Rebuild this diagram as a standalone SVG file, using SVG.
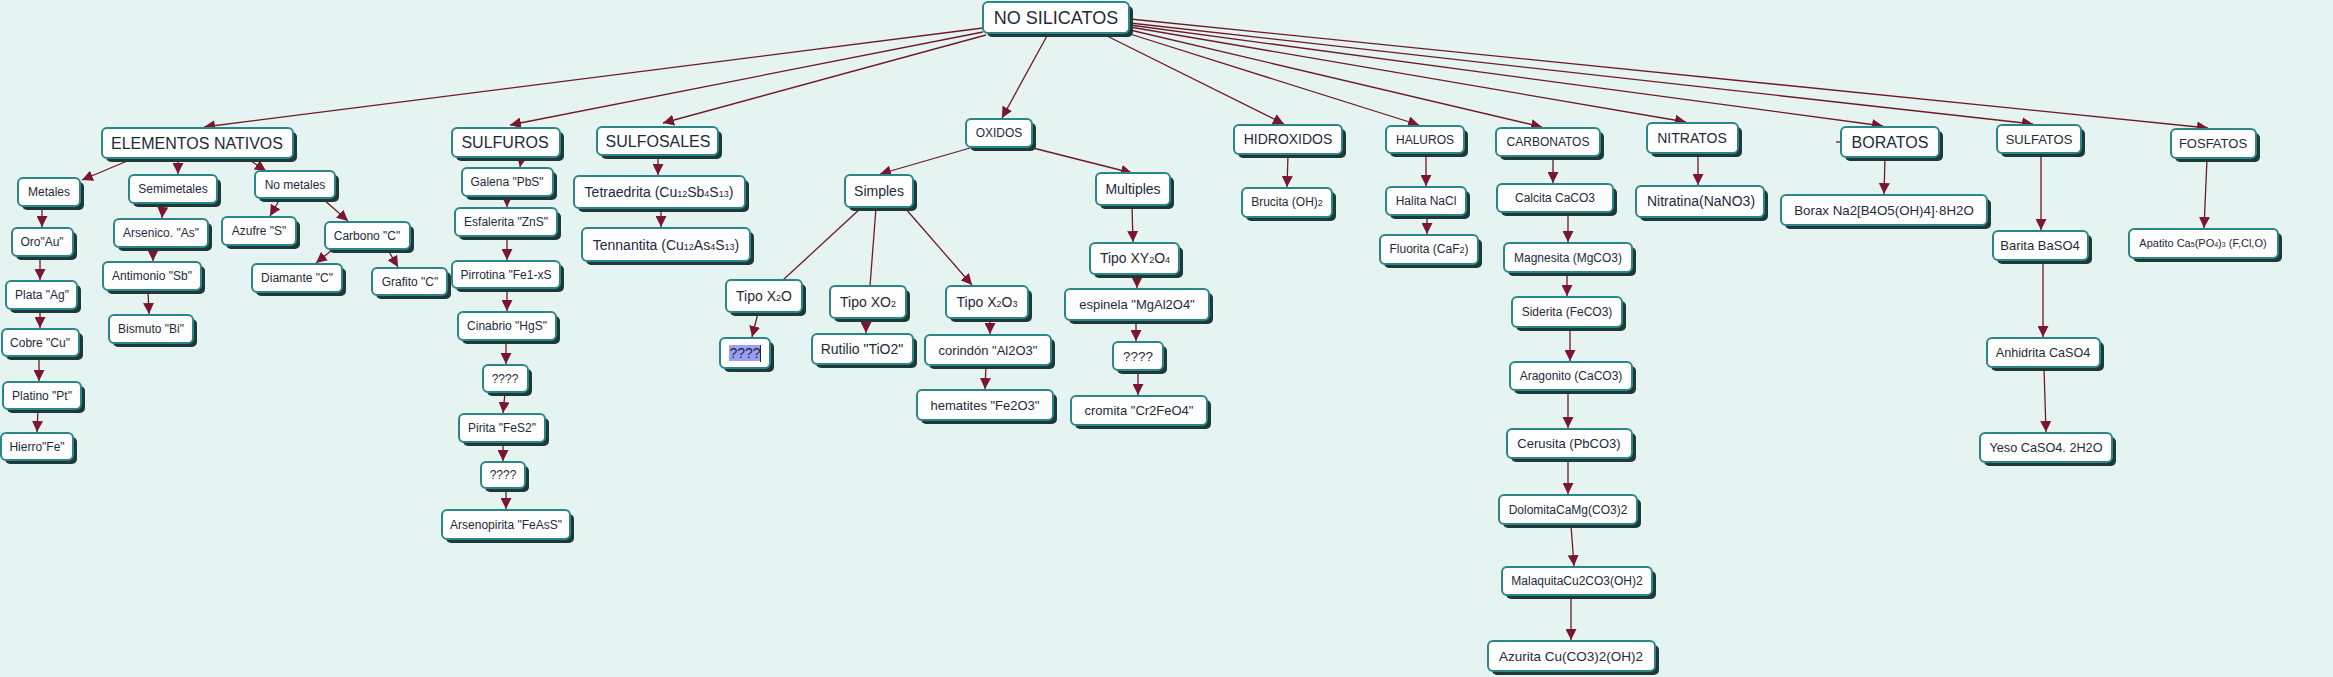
<svg xmlns="http://www.w3.org/2000/svg" width="2333" height="677" viewBox="0 0 2333 677">
<defs>
<marker id="ah" viewBox="0 0 10 10" markerUnits="userSpaceOnUse" markerWidth="11" markerHeight="11" refX="10" refY="5" orient="auto">
<path d="M0,0 L10,5 L0,10 z" fill="#7a1630"/>
</marker>
</defs>
<style>
.sh{fill:#1f3838}
.bx{fill:#ffffff;stroke:#2b8787;stroke-width:2}
text{font-family:"Liberation Sans",Arial,sans-serif;fill:#1c2a3a;text-anchor:middle}
.cn line{stroke:#6e1828;stroke-width:1.3;fill:none}
.cn .a{marker-end:url(#ah)}
</style>
<rect x="0" y="0" width="2333" height="677" fill="#e5f4f1"/>
<g class="cn" id="connectors">
<line class="a" x1="983" y1="28" x2="204" y2="127"/>
<line class="a" x1="983" y1="32" x2="510" y2="125"/>
<line class="a" x1="986" y1="35" x2="663" y2="123"/>
<line class="a" x1="1048" y1="34" x2="1002" y2="118"/>
<line class="a" x1="1103" y1="34" x2="1284" y2="124"/>
<line class="a" x1="1130" y1="34" x2="1419" y2="125"/>
<line class="a" x1="1130" y1="30" x2="1542" y2="127"/>
<line class="a" x1="1130" y1="27" x2="1686" y2="122"/>
<line class="a" x1="1130" y1="25" x2="1883" y2="126"/>
<line class="a" x1="1130" y1="23" x2="2033" y2="124"/>
<line class="a" x1="1130" y1="19" x2="2208" y2="128"/>
<line class="a" x1="132" y1="159" x2="82" y2="180"/>
<line class="a" x1="178" y1="159" x2="178" y2="174"/>
<line class="a" x1="248" y1="159" x2="266" y2="171"/>
<line class="a" x1="42" y1="207" x2="42" y2="227"/>
<line class="a" x1="40" y1="257" x2="40" y2="280"/>
<line class="a" x1="40" y1="310" x2="40" y2="328"/>
<line class="a" x1="39" y1="357" x2="39" y2="381"/>
<line class="a" x1="38" y1="410" x2="37" y2="432"/>
<line class="a" x1="163" y1="204" x2="162" y2="218"/>
<line class="a" x1="153" y1="248" x2="153" y2="261"/>
<line class="a" x1="148" y1="291" x2="149" y2="314"/>
<line class="a" x1="280" y1="199" x2="270" y2="216"/>
<line class="a" x1="323" y1="199" x2="348" y2="221"/>
<line class="a" x1="332" y1="250" x2="316" y2="263"/>
<line class="a" x1="388" y1="250" x2="398" y2="267"/>
<line class="a" x1="522" y1="156" x2="520" y2="167"/>
<line class="a" x1="507" y1="197" x2="507" y2="207"/>
<line class="a" x1="507" y1="237" x2="507" y2="260"/>
<line class="a" x1="507" y1="289" x2="507" y2="311"/>
<line class="a" x1="506" y1="341" x2="506" y2="364"/>
<line class="a" x1="505" y1="393" x2="503" y2="413"/>
<line class="a" x1="503" y1="443" x2="503" y2="461"/>
<line class="a" x1="506" y1="489" x2="506" y2="509"/>
<line class="a" x1="658" y1="156" x2="658" y2="175"/>
<line class="a" x1="661" y1="209" x2="661" y2="227"/>
<line class="a" x1="970" y1="148" x2="880" y2="174"/>
<line class="a" x1="1033" y1="148" x2="1132" y2="173"/>
<line x1="861" y1="208" x2="783" y2="280"/>
<line x1="876" y1="208" x2="870" y2="286"/>
<line class="a" x1="905" y1="208" x2="972" y2="285"/>
<line class="a" x1="758" y1="313" x2="752" y2="337"/>
<line class="a" x1="866" y1="319" x2="866" y2="333"/>
<line class="a" x1="990" y1="319" x2="990" y2="334"/>
<line class="a" x1="986" y1="366" x2="985" y2="389"/>
<line class="a" x1="1132" y1="206" x2="1133" y2="242"/>
<line class="a" x1="1137" y1="275" x2="1137" y2="288"/>
<line class="a" x1="1136" y1="321" x2="1136" y2="341"/>
<line class="a" x1="1138" y1="371" x2="1138" y2="395"/>
<line class="a" x1="1288" y1="155" x2="1287" y2="187"/>
<line class="a" x1="1426" y1="154" x2="1426" y2="186"/>
<line class="a" x1="1427" y1="216" x2="1427" y2="234"/>
<line class="a" x1="1553" y1="157" x2="1553" y2="183"/>
<line class="a" x1="1568" y1="213" x2="1568" y2="242"/>
<line class="a" x1="1567" y1="273" x2="1567" y2="296"/>
<line class="a" x1="1570" y1="328" x2="1570" y2="361"/>
<line class="a" x1="1568" y1="391" x2="1568" y2="428"/>
<line class="a" x1="1568" y1="459" x2="1568" y2="494"/>
<line class="a" x1="1571" y1="525" x2="1574" y2="566"/>
<line class="a" x1="1571" y1="596" x2="1571" y2="640"/>
<line class="a" x1="1698" y1="154" x2="1698" y2="185"/>
<line class="a" x1="1885" y1="158" x2="1884" y2="194"/>
<line class="a" x1="2041" y1="154" x2="2041" y2="230"/>
<line class="a" x1="2043" y1="261" x2="2043" y2="337"/>
<line class="a" x1="2044" y1="368" x2="2046" y2="432"/>
<line class="a" x1="2207" y1="159" x2="2204" y2="228"/>
<line x1="1836" y1="142" x2="1841" y2="142"/>
</g>
<g id="nosilicatos"><rect class="sh" x="987" y="6" width="146" height="31" rx="5"/><rect class="bx" x="983" y="2" width="146" height="31" rx="5"/><text x="1056" y="24" font-size="18">NO SILICATOS</text></g>
<g id="elementos"><rect class="sh" x="106" y="132" width="191" height="30" rx="5"/><rect class="bx" x="102" y="128" width="191" height="30" rx="5"/><text x="197" y="149" font-size="16">ELEMENTOS NATIVOS</text></g>
<g id="metales"><rect class="sh" x="22" y="182" width="62" height="28" rx="5"/><rect class="bx" x="18" y="178" width="62" height="28" rx="5"/><text x="49" y="196" font-size="12">Metales</text></g>
<g id="oro"><rect class="sh" x="16" y="232" width="61" height="28" rx="5"/><rect class="bx" x="12" y="228" width="61" height="28" rx="5"/><text x="42" y="246" font-size="12">Oro"Au"</text></g>
<g id="plata"><rect class="sh" x="10" y="285" width="71" height="28" rx="5"/><rect class="bx" x="6" y="281" width="71" height="28" rx="5"/><text x="42" y="299" font-size="12">Plata "Ag"</text></g>
<g id="cobre"><rect class="sh" x="6" y="333" width="77" height="27" rx="5"/><rect class="bx" x="2" y="329" width="77" height="27" rx="5"/><text x="40" y="347" font-size="12">Cobre "Cu"</text></g>
<g id="platino"><rect class="sh" x="7" y="386" width="78" height="27" rx="5"/><rect class="bx" x="3" y="382" width="78" height="27" rx="5"/><text x="42" y="400" font-size="12">Platino "Pt"</text></g>
<g id="hierro"><rect class="sh" x="5" y="437" width="72" height="27" rx="5"/><rect class="bx" x="1" y="433" width="72" height="27" rx="5"/><text x="37" y="451" font-size="12">Hierro"Fe"</text></g>
<g id="semimetales"><rect class="sh" x="133" y="179" width="88" height="28" rx="5"/><rect class="bx" x="129" y="175" width="88" height="28" rx="5"/><text x="173" y="193" font-size="12">Semimetales</text></g>
<g id="arsenico"><rect class="sh" x="118" y="223" width="94" height="28" rx="5"/><rect class="bx" x="114" y="219" width="94" height="28" rx="5"/><text x="161" y="237" font-size="12">Arsenico. "As"</text></g>
<g id="antimonio"><rect class="sh" x="107" y="266" width="98" height="28" rx="5"/><rect class="bx" x="103" y="262" width="98" height="28" rx="5"/><text x="152" y="280" font-size="12">Antimonio "Sb"</text></g>
<g id="bismuto"><rect class="sh" x="113" y="319" width="84" height="28" rx="5"/><rect class="bx" x="109" y="315" width="84" height="28" rx="5"/><text x="151" y="333" font-size="12">Bismuto "Bi"</text></g>
<g id="nometales"><rect class="sh" x="259" y="175" width="80" height="27" rx="5"/><rect class="bx" x="255" y="171" width="80" height="27" rx="5"/><text x="295" y="189" font-size="12">No metales</text></g>
<g id="azufre"><rect class="sh" x="226" y="221" width="74" height="28" rx="5"/><rect class="bx" x="222" y="217" width="74" height="28" rx="5"/><text x="259" y="235" font-size="12">Azufre "S"</text></g>
<g id="carbono"><rect class="sh" x="329" y="226" width="85" height="27" rx="5"/><rect class="bx" x="325" y="222" width="85" height="27" rx="5"/><text x="367" y="240" font-size="12">Carbono "C"</text></g>
<g id="diamante"><rect class="sh" x="256" y="268" width="90" height="28" rx="5"/><rect class="bx" x="252" y="264" width="90" height="28" rx="5"/><text x="297" y="282" font-size="12">Diamante "C"</text></g>
<g id="grafito"><rect class="sh" x="376" y="272" width="75" height="27" rx="5"/><rect class="bx" x="372" y="268" width="75" height="27" rx="5"/><text x="410" y="286" font-size="12">Grafito "C"</text></g>
<g id="sulfuros"><rect class="sh" x="456" y="132" width="108" height="29" rx="5"/><rect class="bx" x="452" y="128" width="108" height="29" rx="5"/><text x="505" y="148" font-size="16">SULFUROS</text></g>
<g id="galena"><rect class="sh" x="466" y="172" width="91" height="28" rx="5"/><rect class="bx" x="462" y="168" width="91" height="28" rx="5"/><text x="507" y="186" font-size="12">Galena "PbS"</text></g>
<g id="esfalerita"><rect class="sh" x="459" y="212" width="102" height="28" rx="5"/><rect class="bx" x="455" y="208" width="102" height="28" rx="5"/><text x="506" y="226" font-size="12">Esfalerita "ZnS"</text></g>
<g id="pirrotina"><rect class="sh" x="456" y="265" width="108" height="27" rx="5"/><rect class="bx" x="452" y="261" width="108" height="27" rx="5"/><text x="506" y="279" font-size="12">Pirrotina "Fe1-xS</text></g>
<g id="cinabrio"><rect class="sh" x="462" y="316" width="98" height="28" rx="5"/><rect class="bx" x="458" y="312" width="98" height="28" rx="5"/><text x="507" y="330" font-size="12">Cinabrio "HgS"</text></g>
<g id="q1"><rect class="sh" x="487" y="369" width="45" height="27" rx="5"/><rect class="bx" x="483" y="365" width="45" height="27" rx="5"/><text x="505" y="383" font-size="12">????</text></g>
<g id="pirita"><rect class="sh" x="463" y="418" width="86" height="28" rx="5"/><rect class="bx" x="459" y="414" width="86" height="28" rx="5"/><text x="502" y="432" font-size="12">Pirita "FeS2"</text></g>
<g id="q2"><rect class="sh" x="485" y="466" width="44" height="26" rx="5"/><rect class="bx" x="481" y="462" width="44" height="26" rx="5"/><text x="503" y="479" font-size="12">????</text></g>
<g id="arsenopirita"><rect class="sh" x="446" y="514" width="128" height="29" rx="5"/><rect class="bx" x="442" y="510" width="128" height="29" rx="5"/><text x="506" y="529" font-size="12">Arsenopirita "FeAsS"</text></g>
<g id="sulfosales"><rect class="sh" x="601" y="131" width="121" height="28" rx="5"/><rect class="bx" x="597" y="127" width="121" height="28" rx="5"/><text x="658" y="147" font-size="16">SULFOSALES</text></g>
<g id="tetraedrita"><rect class="sh" x="578" y="180" width="171" height="32" rx="5"/><rect class="bx" x="574" y="176" width="171" height="32" rx="5"/><text x="659" y="197" font-size="14">Tetraedrita (Cu<tspan font-size="9">12</tspan>Sb<tspan font-size="9">4</tspan>S<tspan font-size="9">13</tspan>)</text></g>
<g id="tennantita"><rect class="sh" x="586" y="232" width="168" height="33" rx="5"/><rect class="bx" x="582" y="228" width="168" height="33" rx="5"/><text x="666" y="250" font-size="14">Tennantita (Cu<tspan font-size="9">12</tspan>As<tspan font-size="9">4</tspan>S<tspan font-size="9">13</tspan>)</text></g>
<g id="oxidos"><rect class="sh" x="970" y="123" width="66" height="28" rx="5"/><rect class="bx" x="966" y="119" width="66" height="28" rx="5"/><text x="999" y="137" font-size="12">OXIDOS</text></g>
<g id="simples"><rect class="sh" x="849" y="179" width="68" height="32" rx="5"/><rect class="bx" x="845" y="175" width="68" height="32" rx="5"/><text x="879" y="196" font-size="14">Simples</text></g>
<g id="multiples"><rect class="sh" x="1100" y="177" width="74" height="32" rx="5"/><rect class="bx" x="1096" y="173" width="74" height="32" rx="5"/><text x="1133" y="194" font-size="14">Multiples</text></g>
<g id="tipox2o"><rect class="sh" x="730" y="284" width="76" height="32" rx="5"/><rect class="bx" x="726" y="280" width="76" height="32" rx="5"/><text x="764" y="301" font-size="14">Tipo X<tspan font-size="9">2</tspan>O</text></g>
<g id="q3"><rect class="sh" x="724" y="342" width="50" height="30" rx="5"/><rect class="bx" x="720" y="338" width="50" height="30" rx="5"/><rect x="729" y="345" width="31" height="16" fill="#9c9ef5"/><line x1="760.5" y1="345" x2="760.5" y2="362" stroke="#1c2a3a" stroke-width="1"/><text x="745" y="358" font-size="14" fill="#2a3470">????</text></g>
<g id="tipoxo2"><rect class="sh" x="834" y="290" width="76" height="32" rx="5"/><rect class="bx" x="830" y="286" width="76" height="32" rx="5"/><text x="868" y="307" font-size="14">Tipo XO<tspan font-size="9">2</tspan></text></g>
<g id="rutilio"><rect class="sh" x="816" y="338" width="101" height="30" rx="5"/><rect class="bx" x="812" y="334" width="101" height="30" rx="5"/><text x="862" y="354" font-size="14">Rutilio "TiO2"</text></g>
<g id="tipox2o3"><rect class="sh" x="950" y="290" width="82" height="32" rx="5"/><rect class="bx" x="946" y="286" width="82" height="32" rx="5"/><text x="987" y="307" font-size="14">Tipo X<tspan font-size="9">2</tspan>O<tspan font-size="9">3</tspan></text></g>
<g id="corindon"><rect class="sh" x="929" y="339" width="126" height="30" rx="5"/><rect class="bx" x="925" y="335" width="126" height="30" rx="5"/><text x="988" y="355" font-size="13">corindón "Al2O3"</text></g>
<g id="hematites"><rect class="sh" x="921" y="394" width="136" height="30" rx="5"/><rect class="bx" x="917" y="390" width="136" height="30" rx="5"/><text x="985" y="410" font-size="13">hematites "Fe2O3"</text></g>
<g id="tipoxy2o4"><rect class="sh" x="1094" y="247" width="89" height="31" rx="5"/><rect class="bx" x="1090" y="243" width="89" height="31" rx="5"/><text x="1135" y="263" font-size="14">Tipo XY<tspan font-size="9">2</tspan>O<tspan font-size="9">4</tspan></text></g>
<g id="espinela"><rect class="sh" x="1069" y="293" width="144" height="31" rx="5"/><rect class="bx" x="1065" y="289" width="144" height="31" rx="5"/><text x="1137" y="309" font-size="13">espinela "MgAl2O4"</text></g>
<g id="q4"><rect class="sh" x="1117" y="346" width="50" height="28" rx="5"/><rect class="bx" x="1113" y="342" width="50" height="28" rx="5"/><text x="1138" y="361" font-size="13.5">????</text></g>
<g id="cromita"><rect class="sh" x="1075" y="400" width="136" height="29" rx="5"/><rect class="bx" x="1071" y="396" width="136" height="29" rx="5"/><text x="1139" y="415" font-size="13">cromita "Cr2FeO4"</text></g>
<g id="hidroxidos"><rect class="sh" x="1238" y="129" width="108" height="29" rx="5"/><rect class="bx" x="1234" y="125" width="108" height="29" rx="5"/><text x="1288" y="144" font-size="14">HIDROXIDOS</text></g>
<g id="brucita"><rect class="sh" x="1246" y="192" width="90" height="29" rx="5"/><rect class="bx" x="1242" y="188" width="90" height="29" rx="5"/><text x="1287" y="206" font-size="12">Brucita (OH)<tspan font-size="9">2</tspan></text></g>
<g id="haluros"><rect class="sh" x="1390" y="130" width="78" height="27" rx="5"/><rect class="bx" x="1386" y="126" width="78" height="27" rx="5"/><text x="1425" y="144" font-size="12">HALUROS</text></g>
<g id="halita"><rect class="sh" x="1390" y="191" width="80" height="28" rx="5"/><rect class="bx" x="1386" y="187" width="80" height="28" rx="5"/><text x="1426" y="205" font-size="12">Halita NaCl</text></g>
<g id="fluorita"><rect class="sh" x="1384" y="239" width="98" height="29" rx="5"/><rect class="bx" x="1380" y="235" width="98" height="29" rx="5"/><text x="1429" y="253" font-size="12">Fluorita (CaF<tspan font-size="9">2</tspan>)</text></g>
<g id="carbonatos"><rect class="sh" x="1500" y="132" width="104" height="28" rx="5"/><rect class="bx" x="1496" y="128" width="104" height="28" rx="5"/><text x="1548" y="146" font-size="12">CARBONATOS</text></g>
<g id="calcita"><rect class="sh" x="1501" y="188" width="116" height="28" rx="5"/><rect class="bx" x="1497" y="184" width="116" height="28" rx="5"/><text x="1555" y="202" font-size="12">Calcita CaCO3</text></g>
<g id="magnesita"><rect class="sh" x="1508" y="247" width="128" height="29" rx="5"/><rect class="bx" x="1504" y="243" width="128" height="29" rx="5"/><text x="1568" y="262" font-size="12">Magnesita (MgCO3)</text></g>
<g id="siderita"><rect class="sh" x="1516" y="301" width="110" height="30" rx="5"/><rect class="bx" x="1512" y="297" width="110" height="30" rx="5"/><text x="1567" y="316" font-size="12">Siderita (FeCO3)</text></g>
<g id="aragonito"><rect class="sh" x="1514" y="366" width="122" height="28" rx="5"/><rect class="bx" x="1510" y="362" width="122" height="28" rx="5"/><text x="1571" y="380" font-size="12">Aragonito (CaCO3)</text></g>
<g id="cerusita"><rect class="sh" x="1511" y="433" width="125" height="29" rx="5"/><rect class="bx" x="1507" y="429" width="125" height="29" rx="5"/><text x="1569" y="448" font-size="13">Cerusita (PbCO3)</text></g>
<g id="dolomita"><rect class="sh" x="1503" y="499" width="138" height="29" rx="5"/><rect class="bx" x="1499" y="495" width="138" height="29" rx="5"/><text x="1568" y="514" font-size="12">DolomitaCaMg(CO3)2</text></g>
<g id="malaquita"><rect class="sh" x="1506" y="571" width="150" height="28" rx="5"/><rect class="bx" x="1502" y="567" width="150" height="28" rx="5"/><text x="1577" y="585" font-size="12">MalaquitaCu2CO3(OH)2</text></g>
<g id="azurita"><rect class="sh" x="1492" y="645" width="167" height="30" rx="5"/><rect class="bx" x="1488" y="641" width="167" height="30" rx="5"/><text x="1571" y="661" font-size="13.5">Azurita Cu(CO3)2(OH)2</text></g>
<g id="nitratos"><rect class="sh" x="1651" y="127" width="91" height="30" rx="5"/><rect class="bx" x="1647" y="123" width="91" height="30" rx="5"/><text x="1692" y="143" font-size="14">NITRATOS</text></g>
<g id="nitratina"><rect class="sh" x="1640" y="190" width="128" height="31" rx="5"/><rect class="bx" x="1636" y="186" width="128" height="31" rx="5"/><text x="1701" y="206" font-size="14">Nitratina(NaNO3)</text></g>
<g id="boratos"><rect class="sh" x="1845" y="131" width="98" height="30" rx="5"/><rect class="bx" x="1841" y="127" width="98" height="30" rx="5"/><text x="1890" y="148" font-size="16">BORATOS</text></g>
<g id="borax"><rect class="sh" x="1785" y="199" width="206" height="30" rx="5"/><rect class="bx" x="1781" y="195" width="206" height="30" rx="5"/><text x="1884" y="215" font-size="13.3">Borax Na2[B4O5(OH)4]·8H2O</text></g>
<g id="sulfatos"><rect class="sh" x="2001" y="129" width="84" height="28" rx="5"/><rect class="bx" x="1997" y="125" width="84" height="28" rx="5"/><text x="2039" y="144" font-size="13">SULFATOS</text></g>
<g id="barita"><rect class="sh" x="1997" y="235" width="95" height="29" rx="5"/><rect class="bx" x="1993" y="231" width="95" height="29" rx="5"/><text x="2040" y="250" font-size="13">Barita BaSO4</text></g>
<g id="anhidrita"><rect class="sh" x="1991" y="342" width="113" height="29" rx="5"/><rect class="bx" x="1987" y="338" width="113" height="29" rx="5"/><text x="2043" y="357" font-size="12.6">Anhidrita CaSO4</text></g>
<g id="yeso"><rect class="sh" x="1984" y="437" width="132" height="29" rx="5"/><rect class="bx" x="1980" y="433" width="132" height="29" rx="5"/><text x="2046" y="452" font-size="12.7">Yeso CaSO4. 2H2O</text></g>
<g id="fosfatos"><rect class="sh" x="2175" y="133" width="85" height="29" rx="5"/><rect class="bx" x="2171" y="129" width="85" height="29" rx="5"/><text x="2213" y="148" font-size="13">FOSFATOS</text></g>
<g id="apatito"><rect class="sh" x="2133" y="233" width="149" height="29" rx="5"/><rect class="bx" x="2129" y="229" width="149" height="29" rx="5"/><text x="2203" y="247" font-size="11">Apatito Ca<tspan font-size="7">5</tspan>(PO<tspan font-size="7">4</tspan>)<tspan font-size="7">3</tspan> (F,Cl,O)</text></g>
</svg>
